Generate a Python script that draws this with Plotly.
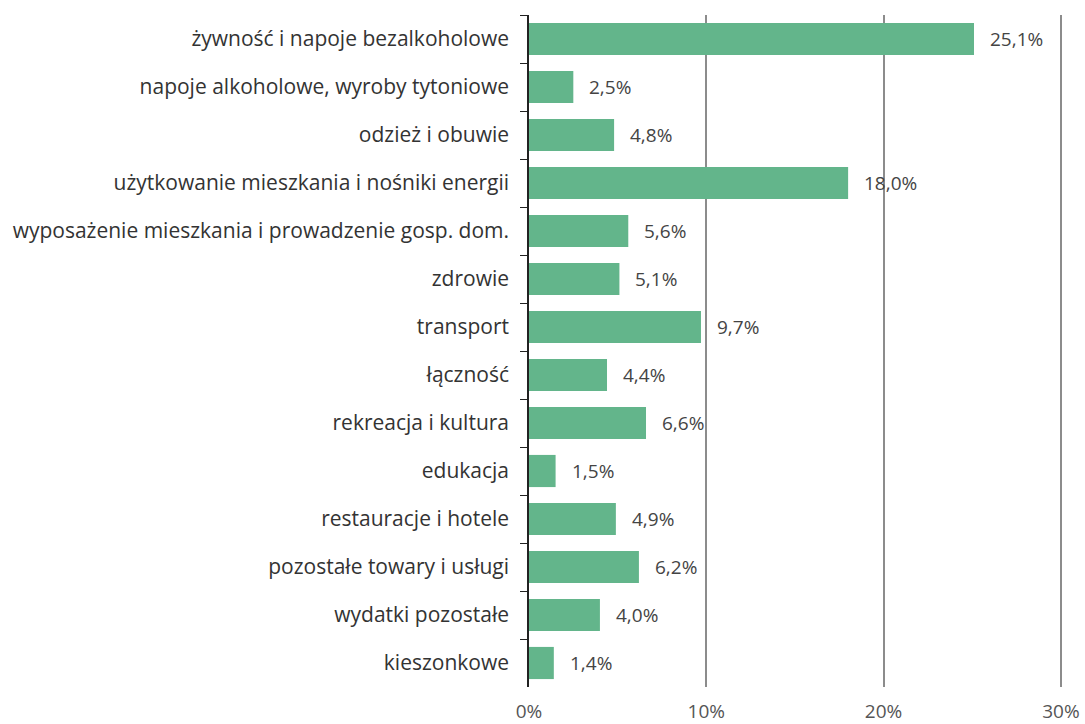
import plotly.graph_objects as go

categories = [
    "żywność i napoje bezalkoholowe",
    "napoje alkoholowe, wyroby tytoniowe",
    "odzież i obuwie",
    "użytkowanie mieszkania i nośniki energii",
    "wyposażenie mieszkania i prowadzenie gosp. dom.",
    "zdrowie",
    "transport",
    "łączność",
    "rekreacja i kultura",
    "edukacja",
    "restauracje i hotele",
    "pozostałe towary i usługi",
    "wydatki pozostałe",
    "kieszonkowe",
]
values = [25.1, 2.5, 4.8, 18.0, 5.6, 5.1, 9.7, 4.4, 6.6, 1.5, 4.9, 6.2, 4.0, 1.4]
x_ticks = [0, 10, 20, 30]
x_tick_labels = ["0%", "10%", "20%", "30%"]

labels = [f"{v:.1f}".replace(".", ",") + "%" for v in values]

fig = go.Figure()
fig.add_trace(go.Bar(
    x=values, y=categories, orientation="h",
    marker=dict(color="#63b58b", line=dict(width=0)),
    hoverinfo="skip",
))
for v, c, t in zip(values, categories, labels):
    fig.add_annotation(x=v, y=c, text=t, showarrow=False, xanchor="left",
                       xshift=14, font=dict(size=19, color="#444444", family="Open Sans"))

fig.update_layout(
    width=1085, height=724,
    margin=dict(l=529, r=22, t=15, b=37),
    plot_bgcolor="white", paper_bgcolor="white",
    bargap=0.33,
    showlegend=False,
    font=dict(family="Open Sans", color="#333333"),
)
fig.update_xaxes(
    range=[0, 30.12], tickmode="array", tickvals=x_ticks, ticktext=x_tick_labels,
    showgrid=True, gridcolor="#8c8c8c", gridwidth=1.5,
    zeroline=False, showline=False, automargin=False,
    tickfont=dict(size=19, color="#555555"),
    ticks="outside", ticklen=7, tickcolor="rgba(0,0,0,0)",
)
fig.update_yaxes(
    autorange="reversed", showline=True, linecolor="#222222", linewidth=1.5,
    ticks="outside", tickson="boundaries", ticklen=7, tickcolor="#222222",
    tickfont=dict(size=21, color="#333333"), automargin=False,
    ticklabelstandoff=14,
    showgrid=False,
)
fig.write_html("out.html")
